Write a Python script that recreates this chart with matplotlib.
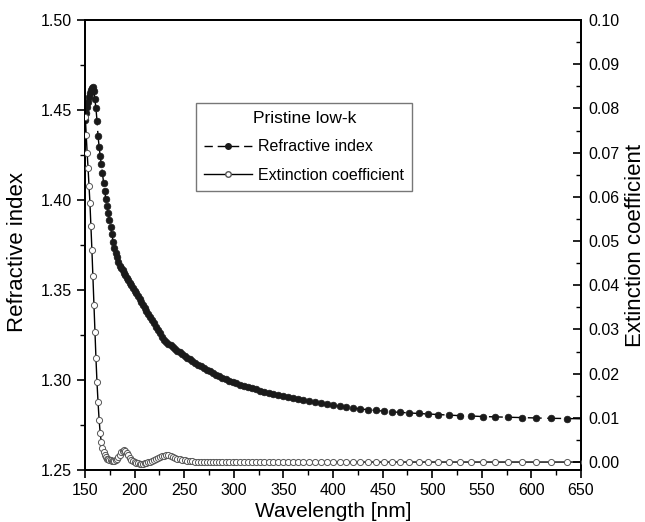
import matplotlib
matplotlib.use("Agg")
import matplotlib.pyplot as plt
from matplotlib.ticker import MultipleLocator, FormatStrFormatter
from matplotlib.lines import Line2D

plt.rcParams["font.family"] = ["Liberation Sans", "DejaVu Sans"]

# wavelength grid of the measurement (nm)
wavelength = [
    150.30, 151.22, 152.15, 153.09, 154.04, 155.00, 155.97, 156.96, 157.96, 158.97,
    160.00, 161.04, 162.09, 163.16, 164.24, 165.33, 166.44, 167.57, 168.71, 169.86,
    171.03, 172.22, 173.43, 174.65, 175.89, 177.14, 178.42, 179.71, 181.02, 182.35,
    183.70, 185.07, 186.47, 187.88, 189.31, 190.77, 192.25, 193.75, 195.28, 196.83,
    198.40, 200.00, 201.63, 203.28, 204.96, 206.67, 208.40, 210.17, 211.97, 213.79,
    215.65, 217.54, 219.47, 221.43, 223.42, 225.45, 227.52, 229.63, 231.78, 233.96,
    236.19, 238.46, 240.78, 243.14, 245.54, 248.00, 250.51, 253.06, 255.67, 258.33,
    261.05, 263.83, 266.67, 269.57, 272.53, 275.56, 278.65, 281.82, 285.06, 288.37,
    291.76, 295.24, 298.80, 302.44, 306.17, 310.00, 313.92, 317.95, 322.08, 326.32,
    330.67, 335.14, 339.73, 344.44, 349.30, 354.29, 359.42, 364.71, 370.15, 375.76,
    381.54, 387.50, 393.65, 400.00, 406.56, 413.33, 420.34, 427.59, 435.09, 442.86,
    450.91, 459.26, 467.92, 476.92, 486.27, 496.00, 506.12, 516.67, 527.66, 539.13,
    551.11, 563.64, 576.74, 590.48, 604.88, 620.00, 635.90, 652.63,
]

refractive_index = [
    1.4445, 1.4485, 1.4515, 1.4545, 1.4570, 1.4595, 1.4612, 1.4622, 1.4626, 1.4605,
    1.4560, 1.4510, 1.4440, 1.4355, 1.4295, 1.4245, 1.4200, 1.4150, 1.4097, 1.4050,
    1.4005, 1.3965, 1.3928, 1.3890, 1.3850, 1.3810, 1.3766, 1.3735, 1.3708, 1.3682,
    1.3658, 1.3635, 1.3622, 1.3609, 1.3596, 1.3582, 1.3568, 1.3554, 1.3540, 1.3526,
    1.3511, 1.3496, 1.3481, 1.3466, 1.3450, 1.3434, 1.3418, 1.3402, 1.3385, 1.3368,
    1.3351, 1.3333, 1.3315, 1.3297, 1.3278, 1.3259, 1.3240, 1.3221, 1.3211, 1.3201,
    1.3192, 1.3182, 1.3172, 1.3162, 1.3153, 1.3143, 1.3134, 1.3124, 1.3114, 1.3104,
    1.3095, 1.3086, 1.3076, 1.3067, 1.3057, 1.3048, 1.3039, 1.3030, 1.3021, 1.3012,
    1.3003, 1.2996, 1.2989, 1.2982, 1.2975, 1.2968, 1.2961, 1.2954, 1.2948, 1.2941,
    1.2935, 1.2929, 1.2923, 1.2917, 1.2911, 1.2905, 1.2900, 1.2892, 1.2887, 1.2881,
    1.2876, 1.2870, 1.2864, 1.2859, 1.2854, 1.2849, 1.2844, 1.2839, 1.2835, 1.2831,
    1.2827, 1.2823, 1.2820, 1.2817, 1.2814, 1.2811, 1.2808, 1.2805, 1.2802, 1.2800,
    1.2797, 1.2795, 1.2793, 1.2791, 1.2789, 1.2787, 1.2786, 1.2784,
]

extinction_coeff = [
    0.0780, 0.0740, 0.0700, 0.0665, 0.0625, 0.0585, 0.0535, 0.0480, 0.0420, 0.0355,
    0.0295, 0.0235, 0.0180, 0.0135, 0.0095, 0.0065, 0.0045, 0.0032, 0.0023, 0.0016,
    0.0011, 0.0008, 0.0006, 0.0005, 0.0004, 0.0003, 0.0002, 0.0003, 0.0005, 0.0008,
    0.0012, 0.0017, 0.0022, 0.0026, 0.0028, 0.0026, 0.0021, 0.0015, 0.0009, 0.0005,
    0.0002, -0.0001, -0.0002, -0.0003, -0.0004, -0.0004, -0.0004, -0.0003, -0.0002, -0.0001,
    0.0001, 0.0003, 0.0005, 0.0007, 0.0009, 0.0011, 0.0013, 0.0014, 0.0015, 0.0015,
    0.0014, 0.0012, 0.0010, 0.0008, 0.0006, 0.0005, 0.0004, 0.0003, 0.0002, 0.0002,
    0.0001, 0.0001, 0.0001, 0.0001, 0.0001, 0.0001, 0.0001, 0.0001, 0.0000, 0.0000,
    0.0000, 0.0000, 0.0000, 0.0000, 0.0000, 0.0000, 0.0000, 0.0000, 0.0000, 0.0000,
    0.0000, 0.0000, 0.0000, 0.0000, 0.0000, 0.0000, 0.0000, 0.0000, 0.0000, 0.0000,
    0.0000, 0.0000, 0.0000, 0.0000, 0.0000, 0.0000, 0.0000, 0.0000, 0.0000, 0.0000,
    0.0000, 0.0000, 0.0000, 0.0000, 0.0000, 0.0000, 0.0000, 0.0000, 0.0000, 0.0000,
    0.0000, 0.0000, 0.0000, 0.0000, 0.0000, 0.0000, 0.0000, 0.0000,
]

legend_title = "Pristine low-k"
label_n = "Refractive index"
label_k = "Extinction coefficient"

fig = plt.figure(figsize=(6.45, 5.22), dpi=100)
ax = fig.add_axes([85 / 645, 1 - 470 / 522, 496 / 645, 450 / 522])
ax2 = ax.twinx()

ax.plot(wavelength, refractive_index, color="black", lw=1.0, ls=(0, (10, 4)),
        marker="o", ms=4.8, mfc="#1a1a1a", mec="#1a1a1a", mew=0.5, zorder=3)
ax2.plot(wavelength, extinction_coeff, color="black", lw=1.0, ls="-",
         marker="o", ms=4.4, mfc="white", mec="#555555", mew=0.7, zorder=3)

ax.set_xlim(150, 650)
ax.set_ylim(1.25, 1.50)
ax2.set_ylim(-0.0018, 0.10)

ax.xaxis.set_major_locator(MultipleLocator(50))
ax.xaxis.set_minor_locator(MultipleLocator(25))
ax.yaxis.set_major_locator(MultipleLocator(0.05))
ax.yaxis.set_minor_locator(MultipleLocator(0.025))
ax.yaxis.set_major_formatter(FormatStrFormatter("%.2f"))
ax2.yaxis.set_major_locator(MultipleLocator(0.01))
ax2.yaxis.set_minor_locator(MultipleLocator(0.005))
ax2.yaxis.set_major_formatter(FormatStrFormatter("%.2f"))

ax.tick_params(axis="both", which="major", direction="out", length=6, width=1.2,
               labelsize=11.5, top=False)
ax.tick_params(axis="both", which="minor", direction="out", length=3.5, width=1.0, top=False)
ax2.tick_params(axis="y", which="major", direction="in", length=6, width=1.2,
                labelsize=11.5, pad=5)
ax2.tick_params(axis="y", which="minor", direction="in", length=3.5, width=1.0)

for sp in list(ax.spines.values()) + list(ax2.spines.values()):
    sp.set_linewidth(1.3)

ax.set_xlabel("Wavelength [nm]", fontsize=15, labelpad=3)
ax.set_ylabel(label_n, fontsize=16)
ax.yaxis.set_label_coords(-0.115, 0.485)
ax2.set_ylabel(label_k, fontsize=16)
ax2.yaxis.set_label_coords(1.089, 0.5)

handles = [
    Line2D([], [], color="black", lw=1.0, ls=(0, (6, 3.5)), marker="o", ms=4.0,
           mfc="#1a1a1a", mec="#1a1a1a"),
    Line2D([], [], color="black", lw=1.0, ls="-", marker="o", ms=4.0,
           mfc="white", mec="#555555"),
]
leg = ax2.legend(handles, [label_n, label_k], title=legend_title, loc="upper left",
                 bbox_to_anchor=(0.224, 0.816), fontsize=11.5, title_fontsize=12.5,
                 frameon=True, fancybox=False, edgecolor="#777777", framealpha=1,
                 handlelength=3.0, handletextpad=0.4, labelspacing=0.85,
                 borderpad=0.5, borderaxespad=0)
leg.get_frame().set_linewidth(1.0)

fig.savefig("out.png", dpi=100)
